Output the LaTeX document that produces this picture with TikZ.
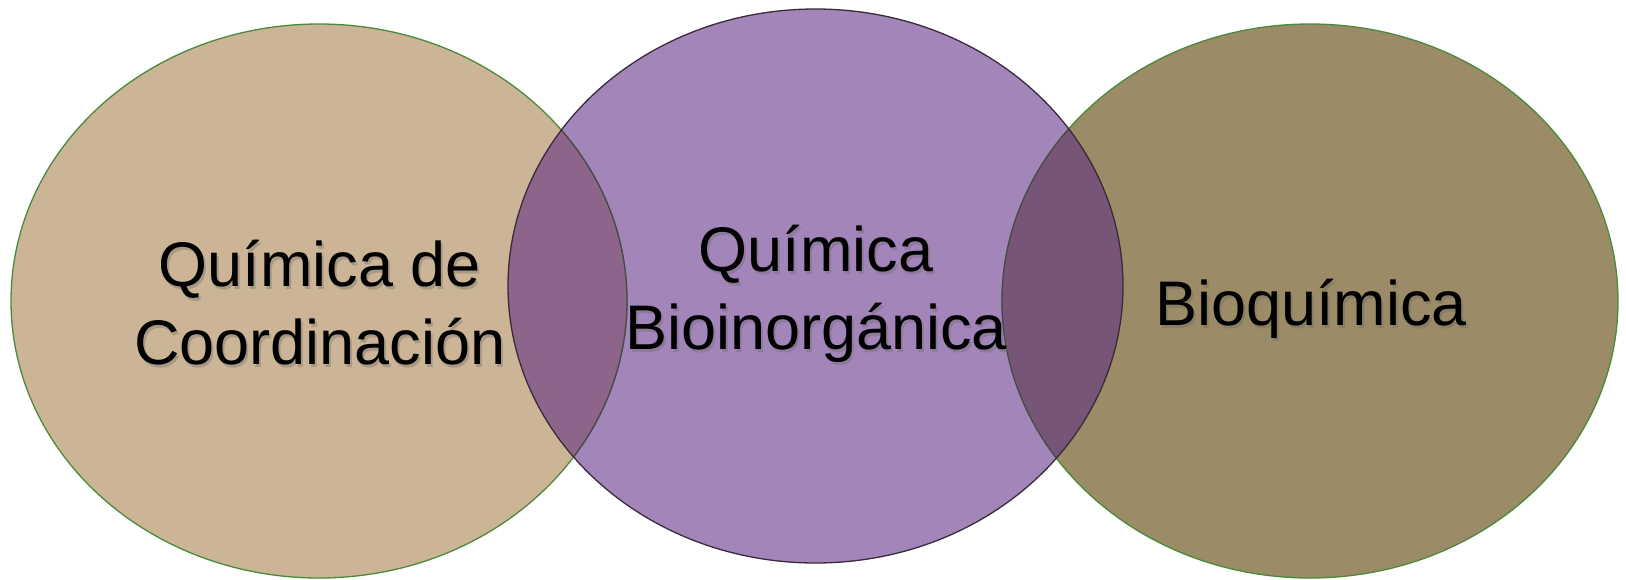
\documentclass[tikz,border=0pt]{standalone}
\usepackage{fontspec}
\setmainfont{Liberation Sans}
\definecolor{tanfill}{HTML}{CBB596}
\definecolor{purfill}{HTML}{A285B9}
\definecolor{olivefill}{HTML}{9B8B67}
\definecolor{ovlL}{HTML}{8D658A}
\definecolor{ovlR}{HTML}{775577}
\definecolor{greenline}{HTML}{4A8A3A}
\definecolor{darkline}{HTML}{3A2A3A}
\begin{document}
\begin{tikzpicture}[x=1pt,y=-1pt,
  lbl/.style={font=\fontsize{63}{78}\selectfont, align=center, text=black, inner sep=0pt},
  shd/.style={font=\fontsize{63}{78}\selectfont, align=center, text=black!60, opacity=0.35, inner sep=0pt}]
\useasboundingbox[fill=white] (0,0) rectangle (1626,579);
% fills
\fill[tanfill] (319,301) ellipse [x radius=308, y radius=277];
\fill[olivefill] (1310,301) ellipse [x radius=308, y radius=277];
\fill[purfill] (815.5,286) ellipse [x radius=307.5, y radius=277];
% overlaps
\begin{scope}
  \clip (319,301) ellipse [x radius=308, y radius=277];
  \fill[ovlL] (815.5,286) ellipse [x radius=307.5, y radius=277];
\end{scope}
\begin{scope}
  \clip (1310,301) ellipse [x radius=308, y radius=277];
  \fill[ovlR] (815.5,286) ellipse [x radius=307.5, y radius=277];
\end{scope}
% outlines
\draw[greenline, line width=1.3pt] (319,301) ellipse [x radius=308, y radius=277];
\draw[greenline, line width=1.3pt] (1310,301) ellipse [x radius=308, y radius=277];
\begin{scope}
  \clip (815.5,286) ellipse [x radius=307.5, y radius=277];
  \draw[darkline!70!gray, line width=1.3pt] (319,301) ellipse [x radius=308, y radius=277];
  \draw[darkline!70!gray, line width=1.3pt] (1310,301) ellipse [x radius=308, y radius=277];
\end{scope}
\draw[darkline, line width=1.3pt] (815.5,286) ellipse [x radius=307.5, y radius=277];
% text shadows
\node[shd, anchor=base] at (322,367) {Química de\\Coordinación};
\node[shd, anchor=base] at (818,352) {Química\\Bioinorgánica};
\node[shd, anchor=base] at (1313,328) {Bioquímica};
% texts
\node[lbl, anchor=base] (coord) at (320,364) {Química de\\Coordinación};
\node[lbl, anchor=base] (bioinorg) at (816,349) {Química\\Bioinorgánica};
\node[lbl, anchor=base] (bioq) at (1311,325) {Bioquímica};
\end{tikzpicture}
\end{document}
